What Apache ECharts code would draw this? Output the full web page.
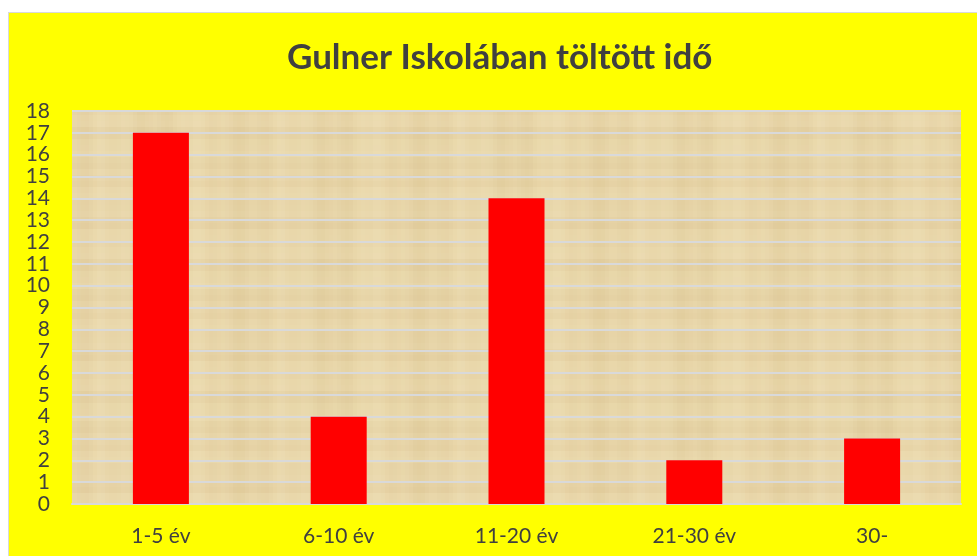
<!DOCTYPE html>
<html>
<head>
<meta charset="utf-8">
<script src="https://cdn.jsdelivr.net/npm/echarts@6/dist/echarts.min.js"></script>
<style>
  html, body { margin: 0; padding: 0; background: #fff; }
  #main {
    position: absolute; left: 8px; top: 12px;
    width: 968px; height: 543px;
    border-left: 1px solid #d9d9d9; border-top: 1px solid #d9d9d9;
    background: #ffff00;
  }
</style>
</head>
<body>
<div id="main"></div>
<script>
const categories = ['1-5 év', '6-10 év', '11-20 év', '21-30 év', '30-'];
const values = [17, 4, 14, 2, 3];
const yTicks = { min: 0, max: 18, interval: 1 };

// papyrus-like texture, fixed soft streak pattern
function papyrus() {
  const c = document.createElement('canvas');
  c.width = 180; c.height = 132;
  const ctx = c.getContext('2d');
  ctx.fillStyle = '#e8d6a9';
  ctx.fillRect(0, 0, c.width, c.height);
  for (let x = 0; x < c.width; x += 4) {
    const t = Math.sin(x * 0.23) * 0.5 + Math.sin(x * 0.07 + 1) * 0.5;
    ctx.fillStyle = t > 0 ? 'rgba(245,232,195,' + (t * 0.25) + ')' : 'rgba(190,150,90,' + (-t * 0.1) + ')';
    ctx.fillRect(x, 0, 4, c.height);
  }
  for (let y = 0; y < c.height; y += 6) {
    const t = Math.sin(y * 0.31) * 0.6 + Math.cos(y * 0.13) * 0.4;
    ctx.fillStyle = t > 0 ? 'rgba(245,230,190,' + (t * 0.2) + ')' : 'rgba(185,145,85,' + (-t * 0.08) + ')';
    ctx.fillRect(0, y, c.width, 6);
  }
  return c;
}

const chart = echarts.init(document.getElementById('main'));
chart.setOption({
  animation: false,
  title: {
    text: 'Gulner Iskolában töltött idő',
    left: 273,
    top: 22,
    textStyle: { fontFamily: 'Lato', fontWeight: 'bold', fontSize: 35, color: '#404040' }
  },
  grid: {
    left: 63, right: 16, top: 98, bottom: 52,
    show: true, borderWidth: 0,
    backgroundColor: { image: papyrus(), repeat: 'repeat' }
  },
  xAxis: {
    type: 'category',
    data: categories,
    axisTick: { show: false },
    axisLine: { lineStyle: { color: '#d9d9d9', width: 2 } },
    axisLabel: { color: '#404040', fontFamily: 'Lato', fontSize: 21, margin: 22 }
  },
  yAxis: {
    type: 'value',
    min: yTicks.min, max: yTicks.max, interval: yTicks.interval,
    axisLine: { show: false },
    axisTick: { show: false },
    splitLine: { lineStyle: { color: '#d9d9d9', width: 2 } },
    axisLabel: { color: '#404040', fontFamily: 'Lato', fontSize: 21, margin: 22 }
  },
  series: [{
    type: 'bar',
    data: values,
    barWidth: 56,
    itemStyle: { color: '#ff0000' }
  }]
});
</script>
</body>
</html>
